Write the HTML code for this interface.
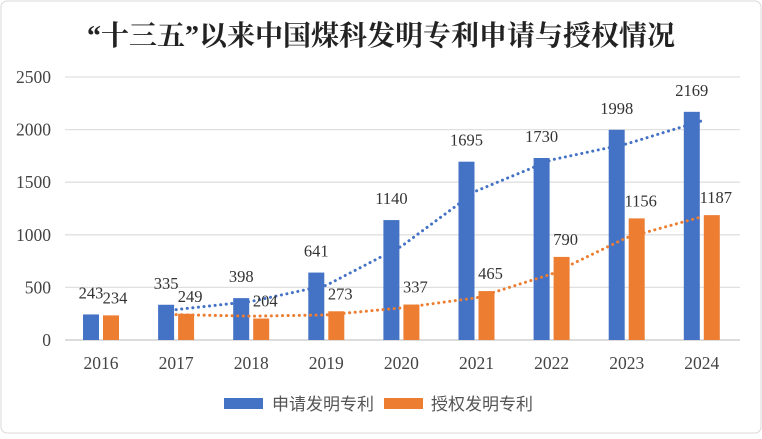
<!DOCTYPE html>
<html><head><meta charset="utf-8"><style>
body{margin:0;background:#fff;}
svg text{font-family:"Liberation Serif","Noto Serif CJK SC",serif;}
</style></head><body>
<svg id="c" width="762" height="434" xmlns="http://www.w3.org/2000/svg">
<rect x="1" y="1" width="760" height="432" rx="6" fill="#fff" stroke="#d9d9d9"/>
<text x="381" y="45" text-anchor="middle" font-size="28" font-weight="bold" fill="#222" style="font-family:'Liberation Serif','Noto Serif CJK SC',serif">“十三五”以来中国煤科发明专利申请与授权情况</text>
<g id="grid"></g><g id="bars"></g><g id="trend"></g><g id="labels"></g>
<g>
<rect x="224" y="398" width="39" height="11" fill="#4472c4"/>
<text x="272" y="410" font-size="17" fill="#555" style="font-family:'Noto Sans CJK SC',sans-serif">申请发明专利</text>
<rect x="384" y="398" width="39" height="11" fill="#ed7d31"/>
<text x="431" y="410" font-size="17" fill="#555" style="font-family:'Noto Sans CJK SC',sans-serif">授权发明专利</text>
</g>
</svg>
<script>
const years=["2016","2017","2018","2019","2020","2021","2022","2023","2024"];
const applied=[243,335,398,641,1140,1695,1730,1998,2169];
const granted=[234,249,204,273,337,465,790,1156,1187];
const yTicks=[0,500,1000,1500,2000,2500];
const NS="http://www.w3.org/2000/svg";
const y=v=>340-v*(263/2500);
const x=i=>101+i*75.1;
function mk(p,tag,a,txt){const e=document.createElementNS(NS,tag);for(const k in a)e.setAttribute(k,a[k]);if(txt!==undefined)e.textContent=txt;document.getElementById(p).appendChild(e);return e;}
yTicks.forEach(t=>{
 const l=mk('grid','line',{x1:65,x2:740,y1:y(t),y2:y(t),stroke:t===0?'#c8c8c8':'#e0e0e0','stroke-width':1.3});
 
 
 const tx=mk('grid','text',{x:51,y:y(t)+6,'text-anchor':'end','font-size':17.5,fill:'#444'},t);
 
 
});
years.forEach((yr,i)=>{
 const tx=mk('grid','text',{x:x(i),y:369,'text-anchor':'middle','font-size':17.5,fill:'#444'},yr);
 
 
 const b1=mk('bars','rect',{x:x(i)-18,y:y(applied[i]),width:16,height:340-y(applied[i]),fill:'#4472c4'});
 
 
 const b2=mk('bars','rect',{x:x(i)+2,y:y(granted[i]),width:16,height:340-y(granted[i]),fill:'#ed7d31'});
 
 
 const l1=mk('labels','text',{x:x(i)-10,y:y(applied[i])-16,'text-anchor':'middle','font-size':16.5,fill:'#333'},applied[i]);
 
 
 const l2=mk('labels','text',{x:x(i)+14,y:y(granted[i])-12,'text-anchor':'middle','font-size':16.5,fill:'#333'},granted[i]);
 
 
});
function trend(arr,col,name){
 let pts=[];for(let i=1;i<arr.length;i++)pts.push(x(i)+','+y((arr[i]+arr[i-1])/2));
 const p=mk('trend','polyline',{points:pts.join(' '),fill:'none',stroke:col,'stroke-width':3,'stroke-dasharray':'0.1 5.5','stroke-linecap':'round'});
 
 
}
trend(applied,'#4472c4','trendline-applied');
trend(granted,'#ed7d31','trendline-granted');
</script>
</body></html>
